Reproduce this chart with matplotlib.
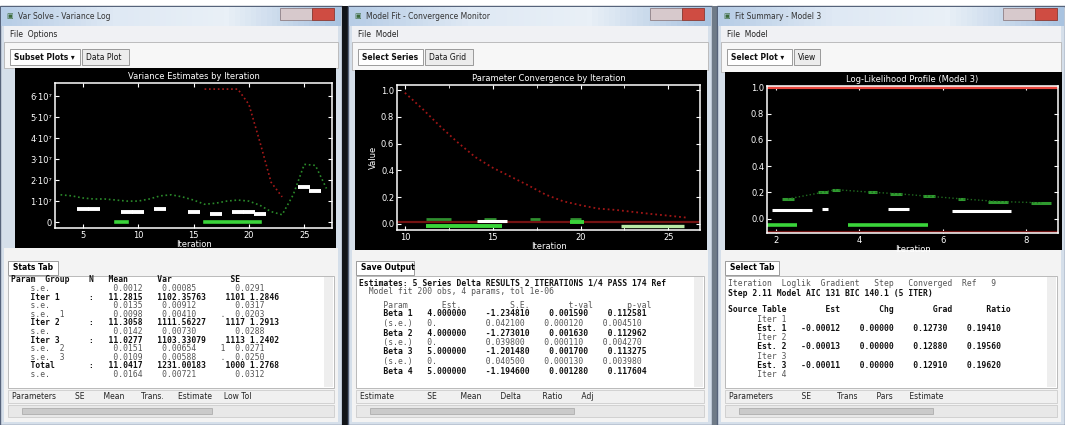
import numpy as np
import matplotlib.pyplot as plt
from matplotlib.patches import Rectangle
from matplotlib.colors import LinearSegmentedColormap

nan = np.nan

# ---- left window: variance estimates (units of 1e7)
iter1 = list(range(3, 28))
red1 = [nan] * 13 + [6.33, 6.33, 6.33, 6.33, 5.6, 3.8, 1.9, 1.2] + [nan] * 4
green1 = [1.3, 1.25, 1.15, 1.1, 1.1, 1.05, 1.0, 1.0, 1.1, 1.25, 1.3, 1.2, 1.05,
          0.85, 0.9, 1.0, 1.05, 1.0, 0.8, 0.5, 0.35, 1.3, 2.75, 2.7, 1.6]
white1 = [nan, nan, 0.62, 0.62, nan, nan, 0.5, 0.5, nan, 0.62, nan, nan, 0.5,
          nan, 0.4, nan, 0.5, 0.5, 0.4, nan, nan, nan, 1.65, 1.5, nan]
base1 = [nan] * 5 + [0, 0] + [nan] * 6 + [0, 0, 0, 0, 0, 0] + [nan] * 6
yticks1 = [0, 1, 2, 3, 4, 5, 6]
ylabels1 = ["0", "1·10⁷", "2·10⁷", "3·10⁷", "4·10⁷", "5·10⁷", "6·10⁷"]

# ---- middle window: parameter convergence
iter2 = list(range(10, 27))
red2 = [0.98, 0.86, 0.73, 0.61, 0.50, 0.42, 0.355, 0.29, 0.22, 0.17, 0.14,
        0.115, 0.105, 0.09, 0.075, 0.062, 0.048]
g2_x0 = [11.2, 14.5, 17.1, 19.4]
g2_x1 = [12.6, 15.2, 17.7, 20.0]
g2_y = [0.035, 0.035, 0.035, 0.035]
w2_x0, w2_x1, w2_y = [14.1], [15.8], [0.022]
b2_x0 = [11.2, 19.4]
b2_x1 = [15.5, 20.2]
b2_y = [-0.018, 0.012]
lg2_x0, lg2_x1, lg2_y = [22.3], [25.9], [-0.018]

# ---- right window: likelihood profile
g3_x0 = [2.15, 3.0, 3.34, 4.22, 4.74, 5.53, 6.37, 7.09, 8.12]
g3_x1 = [2.43, 3.26, 3.54, 4.42, 5.02, 5.81, 6.53, 7.57, 8.6]
g3_y = [0.15, 0.2, 0.22, 0.2, 0.19, 0.17, 0.15, 0.13, 0.12]
w3_x0 = [1.91, 3.1, 4.7, 6.21]
w3_x1 = [2.87, 3.26, 5.2, 7.64]
w3_y = [0.062, 0.075, 0.07, 0.055]
b3_x0 = [1.79, 3.74]
b3_x1 = [2.5, 5.65]
b3_y = [-0.05, -0.05]
r3_top = 1.0

W, H = 1065, 425
fig = plt.figure(figsize=(W / 100, H / 100), dpi=100)
bg = fig.add_axes([0, 0, 1, 1])
bg.axis('off')

title_cmap = LinearSegmentedColormap.from_list('ttl', ['#b7cde6', '#dfe9f4', '#e9f0f7', '#a9c3e0'])
mono = 'DejaVu Sans Mono'


def px_axes(x0, y0, x1, y1):
    return fig.add_axes([x0 / W, 1 - y1 / H, (x1 - x0) / W, (y1 - y0) / H])


def rect(x0, y0, x1, y1, fc, ec='none', lw=0.8, z=1):
    bg.add_patch(Rectangle((x0, y0), x1 - x0, y1 - y0, fc=fc, ec=ec, lw=lw, zorder=z))


def window(x0, x1, title, menu, tabs, black, lower_tab, lines, header):
    rect(x0, 6, x1, H, '#d5dfea', '#56637a', 1.0)
    bg.imshow(np.linspace(0, 1, 64).reshape(1, -1), cmap=title_cmap, aspect='auto',
              extent=(x0 + 1, x1 - 1, 26, 7), zorder=2)
    bg.text(x0 + 6, 16, '▣', fontsize=5, color='#3a6a3a', va='center', zorder=3)
    bg.text(x0 + 18, 16, title, fontsize=5.5, color='#333333', va='center', zorder=3)
    rect(x1 - 62, 8, x1 - 30, 20, '#d7c9cc', '#8f7f85', 0.6, 3)
    rect(x1 - 30, 8, x1 - 8, 20, '#cf4c42', '#8a3a33', 0.6, 3)
    # menu + tab strip
    rect(x0 + 4, 26, x1 - 4, 42, '#f0f1f4', z=2)
    bg.text(x0 + 10, 34, menu, fontsize=5.5, color='#222222', va='center', zorder=3)
    rect(x0 + 4, 42, x1 - 4, black[1], '#f7f7f7', '#b5b5b5', 0.6, 2)
    tx = x0 + 10
    for i, t in enumerate(tabs):
        w = len(t) * 4.4 + 8
        rect(tx, 49, tx + w, 65, '#ffffff' if i == 0 else '#ececec', '#8c8c8c', 0.6, 3)
        bg.text(tx + 4, 57, t, fontsize=5.5, color='#111111', va='center',
                fontweight='bold' if i == 0 else 'normal', zorder=4)
        tx += w + 2
    # black plotting panel
    rect(black[0], black[1], black[2], black[3], '#000000', z=2)
    # lower pane
    rect(x0 + 4, black[3], x1 - 4, H - 3, '#f3f3f3', z=2)
    w = len(lower_tab) * 4.4 + 10
    rect(x0 + 8, 261, x0 + 8 + w, 275, '#ffffff', '#8c8c8c', 0.6, 3)
    bg.text(x0 + 13, 268, lower_tab, fontsize=5.5, fontweight='bold', va='center', zorder=4)
    rect(x0 + 8, 276, x1 - 8, 388, '#ffffff', '#b0b0b0', 0.6, 3)
    rect(x1 - 18, 277, x1 - 9, 387, '#eeeeee', z=3)
    for (y, s, bold) in lines:
        bg.text(x0 + 11, y, s, fontsize=5.8, family=mono, va='center',
                color='#111111' if bold else '#555555',
                fontweight='bold' if bold else 'normal', zorder=4)
    rect(x0 + 8, 390, x1 - 8, 403, '#f0f0f0', '#c5c5c5', 0.5, 3)
    bg.text(x0 + 12, 396.5, header, fontsize=5.5, color='#222222', va='center', zorder=4)
    rect(x0 + 8, 405, x1 - 8, 417, '#e8e8e8', '#c5c5c5', 0.5, 3)
    rect(x0 + 22, 408, x0 + (x1 - x0) * 0.62, 414, '#cacaca', '#a5a5a5', 0.5, 4)


def style_axes(ax, title, xlabel):
    ax.set_facecolor('black')
    for s in ax.spines.values():
        s.set_color('white')
        s.set_linewidth(1.1)
    ax.tick_params(colors='white', labelcolor='white', labelsize=6, direction='in',
                   length=3, width=0.8, top=True, right=True, pad=2)
    ax.set_title(title, color='white', fontsize=6, pad=3)
    ax.set_xlabel(xlabel, color='white', fontsize=6, labelpad=0)


lines1 = [(280, "Param  Group    N   Mean      Var            SE", True)]
rows1 = [("    s.e.             0.0012    0.00085        0.0291", False),
         ("    Iter 1      :   11.2815   1102.35763    1101 1.2846", True),
         ("    s.e.             0.0135    0.00912        0.0317", False),
         ("    s.e.  1          0.0098    0.00410     .  0.0203", False),
         ("    Iter 2      :   11.3058   1111.56227    1117 1.2913", True),
         ("    s.e.             0.0142    0.00730        0.0288", False),
         ("    Iter 3      :   11.0277   1103.33079    1113 1.2402", True),
         ("    s.e.  2          0.0151    0.00654     1  0.0271", False),
         ("    s.e.  3          0.0109    0.00588     .  0.0250", False),
         ("    Total       :   11.0417   1231.00183    1000 1.2768", True),
         ("    s.e.             0.0164    0.00721        0.0312", False)]
for i, r in enumerate(rows1):
    lines1.append((288.5 + i * 8.6, r[0], r[1]))

lines2 = [(283, "Estimates: 5 Series Delta RESULTS 2 ITERATIONS 1/4 PASS 174 Ref", True),
          (292, "  Model fit 200 obs, 4 params, tol 1e-06", False),
          (305, "     Param       Est.          S.E.        t-val       p-val", False)]
rows2 = [("     Beta 1   4.000000    -1.234810    0.001590    0.112581", True),
         ("     (s.e.)   0.          0.042100    0.000120    0.004510", False),
         ("     Beta 2   4.000000    -1.273010    0.001630    0.112962", True),
         ("     (s.e.)   0.          0.039800    0.000110    0.004270", False),
         ("     Beta 3   5.000000    -1.201480    0.001700    0.113275", True),
         ("     (s.e.)   0.          0.040500    0.000130    0.003980", False),
         ("     Beta 4   5.000000    -1.194600    0.001280    0.117604", True)]
for i, r in enumerate(rows2):
    lines2.append((314 + i * 9.5, r[0], r[1]))

lines3 = [(283, "Iteration  Loglik  Gradient   Step   Converged  Ref   9", False),
          (294, "Step 2.11 Model AIC 131 BIC 140.1 (5 ITER)", True),
          (310, "Source Table        Est        Chg        Grad       Ratio", True)]
rows3 = [("      Iter 1", False),
         ("      Est. 1   -0.00012    0.00000    0.12730    0.19410", True),
         ("      Iter 2", False),
         ("      Est. 2   -0.00013    0.00000    0.12880    0.19560", True),
         ("      Iter 3", False),
         ("      Est. 3   -0.00011    0.00000    0.12910    0.19620", True),
         ("      Iter 4", False)]
for i, r in enumerate(rows3):
    lines3.append((319 + i * 9.3, r[0], r[1]))

rect(0, 0, W, H, '#ffffff', z=0)
window(0, 342, "Var Solve - Variance Log", "File  Options", ["Subset Plots ▾", "Data Plot"],
       (15, 68, 336, 248), "Stats Tab", lines1,
       "Parameters        SE        Mean       Trans.      Estimate     Low Tol")
rect(342, 6, 348, H, '#111418')
window(348, 712, "Model Fit - Convergence Monitor", "File  Model", ["Select Series", "Data Grid"],
       (355, 70, 707, 250), "Save Output", lines2,
       "Estimate              SE          Mean        Delta         Ratio        Adj")
rect(712, 6, 717, H, '#6f7b88')
window(717, 1065, "Fit Summary - Model 3", "File  Model", ["Select Plot ▾", "View"],
       (725, 72, 1062, 250), "Select Tab", lines3,
       "Parameters            SE           Trans        Pars       Estimate")

bg.set_xlim(0, W)
bg.set_ylim(H, 0)

# ---- chart 1
ax1 = px_axes(55, 83, 332, 228)
style_axes(ax1, "Variance Estimates by Iteration", "Iteration")
ax1.plot(iter1, red1, ':', color='#a81a1a', lw=1.2)
ax1.plot(iter1, green1, ':', color='#2a8a2a', lw=1.2)
ax1.plot(iter1, white1, ls='none', marker='_', ms=9, mew=2.8, color='white')
ax1.plot(iter1, base1, '-', color='#3ad43a', lw=2.6)
ax1.set_xlim(2.5, 27.5)
ax1.set_ylim(-0.28, 6.62)
ax1.set_xticks([5, 10, 15, 20, 25])
ax1.set_yticks(yticks1, ylabels1)

# ---- chart 2
ax2 = px_axes(397, 85, 700, 230)
style_axes(ax2, "Parameter Convergence by Iteration", "Iteration")
ax2.plot(iter2, red2, ':', color='#a01616', lw=1.3)
ax2.axhline(0.016, color='#741212', lw=1.6)
ax2.hlines(g2_y, g2_x0, g2_x1, color='#2f8f2f', lw=2.0)
ax2.hlines(w2_y, w2_x0, w2_x1, color='white', lw=2.2)
ax2.hlines(b2_y, b2_x0, b2_x1, color='#3ad43a', lw=2.8)
ax2.hlines(lg2_y, lg2_x0, lg2_x1, color='#b9eaa5', lw=2.4)
ax2.set_xlim(9.55, 26.8)
ax2.set_ylim(-0.045, 1.038)
ax2.set_xticks([10, 15, 20, 25])
ax2.set_xticks([12.5, 17.5, 22.5], minor=True)
ax2.tick_params(which='minor', colors='white', direction='in', length=2, top=True)
ax2.set_yticks([0, 0.2, 0.4, 0.6, 0.8, 1.0])
ax2.set_ylabel("Value", color='white', fontsize=6, labelpad=2)

# ---- chart 3
ax3 = px_axes(767, 86, 1058, 233)
style_axes(ax3, "Log-Likelihood Profile (Model 3)", "Iteration")
ax3.axhline(r3_top, color='#e8453c', lw=3.0)
ax3.axhline(-0.1, color='#6e1010', lw=1.6)
ax3.hlines(g3_y, g3_x0, g3_x1, color='#2f9a2f', lw=2.2)
ax3.plot([(a + b) / 2 for a, b in zip(g3_x0, g3_x1)], g3_y, ':', color='#1f6a1f', lw=1.0)
ax3.hlines(w3_y, w3_x0, w3_x1, color='white', lw=2.2)
ax3.hlines(b3_y, b3_x0, b3_x1, color='#3ad43a', lw=2.6)
ax3.set_xlim(1.79, 8.76)
ax3.set_ylim(-0.11, 1.01)
ax3.set_xticks([2, 4, 6, 8])
ax3.set_yticks([0, 0.2, 0.4, 0.6, 0.8, 1.0])

fig.savefig('out.png', dpi=100)
